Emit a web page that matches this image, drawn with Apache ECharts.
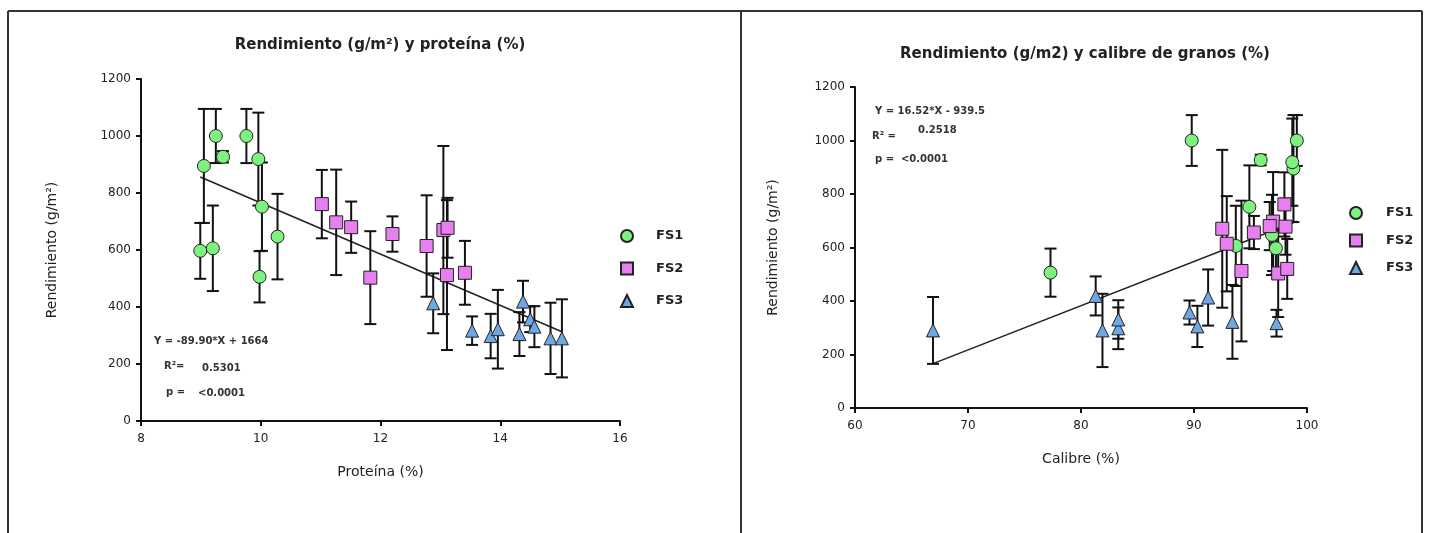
<!DOCTYPE html>
<html>
<head>
<meta charset="utf-8">
<script src="https://cdn.jsdelivr.net/npm/echarts@6/dist/echarts.min.js"></script>
<style>
  html, body { margin: 0; padding: 0; background: #fff; }
  #chart { width: 1429px; height: 533px; }
</style>
</head>
<body>
<div id="chart"></div>
<script>
// rendimiento (g/m2) con su error, igual en ambos graficos
var fs1Rend = [895, 597, 606, 1000, 927, 1000, 919, 752, 506, 647];
var fs1Err  = [200, 98, 150, 95, 20, 95, 163, 155, 90, 150];
var fs1Prot = [9.05, 8.99, 9.20, 9.25, 9.37, 9.76, 9.96, 10.02, 9.98, 10.28];
var fs1Cal  = [98.8, 97.25, 93.7, 89.8, 95.9, 99.1, 98.7, 94.9, 77.3, 96.9];

var fs2Rend = [761, 697, 680, 503, 656, 614, 670, 678, 512, 520];
var fs2Err  = [120, 185, 90, 163, 62, 178, 295, 105, 263, 112];
var fs2Prot = [11.02, 11.26, 11.51, 11.83, 12.20, 12.77, 13.05, 13.12, 13.11, 13.41];
var fs2Cal  = [98.0, 97.0, 96.7, 97.45, 95.3, 92.9, 92.5, 98.1, 94.2, 98.25];

var fs3Rend = [413, 317, 298, 322, 305, 419, 357, 331, 290, 290];
var fs3Err  = [105, 50, 78, 138, 77, 73, 45, 72, 125, 137];
var fs3Prot = [12.88, 13.53, 13.84, 13.96, 14.32, 14.38, 14.50, 14.57, 14.84, 15.03];
var fs3Cal  = [91.25, 97.3, 83.3, 93.4, 90.3, 81.3, 89.6, 83.3, 66.9, 81.9];

// extremos de las rectas de regresion
var regProt = [[8.99, 856], [15.03, 313]];
var regCal  = [[66.9, 166], [99.1, 698]];

var chart = echarts.init(document.getElementById('chart'));
var FONT = 'DejaVu Sans';

function pts(xs, ys) {
	var out = [];
	for (var i = 0; i < xs.length; i++) out.push([xs[i], ys[i]]);
	return out;
}
function bars(xs, ys, es) {
	var out = [];
	for (var i = 0; i < xs.length; i++) out.push([xs[i], ys[i] - es[i], ys[i] + es[i]]);
	return out;
}

function renderBar(params, api) {
	var top = api.coord([api.value(0), api.value(2)]);
	var bot = api.coord([api.value(0), api.value(1)]);
	var w = 6;
	var st = { stroke: '#111', lineWidth: 2 };
	return {
		type: 'group',
		children: [
			{ type: 'line', shape: { x1: top[0], y1: top[1], x2: bot[0], y2: bot[1] }, style: st },
			{ type: 'line', shape: { x1: top[0] - w, y1: top[1], x2: top[0] + w, y2: top[1] }, style: st },
			{ type: 'line', shape: { x1: bot[0] - w, y1: bot[1], x2: bot[0] + w, y2: bot[1] }, style: st }
		]
	};
}

var colors = ['#7ef27e', '#e77ff0', '#6fa7e3'];
var symbols = ['circle', 'rect', 'triangle'];
var names = ['FS1', 'FS2', 'FS3'];

function axisStyle(o, margin) {
	o.axisLine = { lineStyle: { color: '#111', width: 2 } };
	o.axisTick = { length: 5, lineStyle: { color: '#111', width: 2 } };
	o.axisLabel = { color: '#222', fontSize: 12, fontFamily: FONT, margin: margin,
		formatter: function (v) { return String(v); } };
	o.splitLine = { show: false };
	o.nameTextStyle = { color: '#222', fontSize: 14, fontFamily: FONT };
	return o;
}

function axisX(idx, min, max, step, name) {
	return axisStyle({
		gridIndex: idx, type: 'value', min: min, max: max, interval: step,
		name: name, nameLocation: 'middle', nameGap: 44
	}, 12);
}
function axisY(idx, gap) {
	return axisStyle({
		gridIndex: idx, type: 'value', min: 0, max: 1200, interval: 200,
		name: 'Rendimiento (g/m²)', nameLocation: 'middle', nameGap: gap
	}, 10);
}

var series = [];
var sets = [
	[[fs1Prot, fs1Rend, fs1Err], [fs1Cal, fs1Rend, fs1Err]],
	[[fs2Prot, fs2Rend, fs2Err], [fs2Cal, fs2Rend, fs2Err]],
	[[fs3Prot, fs3Rend, fs3Err], [fs3Cal, fs3Rend, fs3Err]]
];

series.push({ type: 'line', xAxisIndex: 0, yAxisIndex: 0, data: regProt, symbol: 'none',
	lineStyle: { color: '#222', width: 1.5 }, z: 1, silent: true });
series.push({ type: 'line', xAxisIndex: 1, yAxisIndex: 1, data: regCal, symbol: 'none',
	lineStyle: { color: '#222', width: 1.5 }, z: 1, silent: true });

for (var s = 0; s < 3; s++) {
	for (var g = 0; g < 2; g++) {
		var d = sets[s][g];
		series.push({
			type: 'custom', name: 'err' + names[s], xAxisIndex: g, yAxisIndex: g,
			renderItem: renderBar, encode: { x: 0, y: [1, 2] },
			data: bars(d[0], d[1], d[2]), z: 2, silent: true
		});
		series.push({
			type: 'scatter', name: names[s], xAxisIndex: g, yAxisIndex: g,
			symbol: symbols[s], symbolSize: 13,
			itemStyle: { color: colors[s], borderColor: '#222', borderWidth: 1, opacity: 1 },
			data: pts(d[0], d[1]), z: 3
		});
	}
}

function txt(x, y, t) {
	return { type: 'text', left: x, top: y,
		style: { text: t, fill: '#333', fontSize: 10, fontWeight: 'bold', fontFamily: FONT } };
}
var frame = { stroke: '#333', lineWidth: 2 };
function legendText(pad) {
	return { fontSize: 13, fontWeight: 'bold', color: '#222', fontFamily: FONT,
		lineHeight: 14, padding: [0, 0, 0, pad] };
}

chart.setOption({
	animation: false,
	title: [{
		text: 'Rendimiento (g/m²) y proteína (%)', left: 375, top: 33, textAlign: 'center',
		textStyle: { fontSize: 15, fontWeight: 'bold', color: '#222', fontFamily: FONT }
	}, {
		text: 'Rendimiento (g/m2) y calibre de granos (%)', left: 1080, top: 42, textAlign: 'center',
		textStyle: { fontSize: 15, fontWeight: 'bold', color: '#222', fontFamily: FONT }
	}],
	legend: [{
		data: names, orient: 'vertical', left: 620, top: 229, itemGap: 18.5, padding: 0,
		itemWidth: 12, itemHeight: 12, selectedMode: false, textStyle: legendText(18)
	}, {
		data: names, orient: 'vertical', left: 1349, top: 206, itemGap: 13.5, padding: 0,
		itemWidth: 12, itemHeight: 12, selectedMode: false, textStyle: legendText(19)
	}],
	grid: [
		{ left: 141, top: 79, width: 479, height: 342 },
		{ left: 855, top: 87, width: 452, height: 321 }
	],
	xAxis: [axisX(0, 8, 16, 2, 'Proteína (%)'), axisX(1, 60, 100, 10, 'Calibre (%)')],
	yAxis: [axisY(0, 82), axisY(1, 75)],
	series: series,
	graphic: [
		{ type: 'line', shape: { x1: 8, y1: 11, x2: 1422, y2: 11 }, style: frame },
		{ type: 'line', shape: { x1: 8, y1: 11, x2: 8, y2: 533 }, style: frame },
		{ type: 'line', shape: { x1: 741, y1: 11, x2: 741, y2: 533 }, style: frame },
		{ type: 'line', shape: { x1: 1422, y1: 11, x2: 1422, y2: 533 }, style: frame },
		txt(154, 336, 'Y = -89.90*X + 1664'),
		txt(164, 361, 'R²='),
		txt(202, 363, '0.5301'),
		txt(166, 387, 'p ='),
		txt(198, 388, '<0.0001'),
		txt(875, 106, 'Y = 16.52*X - 939.5'),
		txt(872, 131, 'R² ='),
		txt(918, 125, '0.2518'),
		txt(875, 154, 'p =  <0.0001')
	]
});
</script>
</body>
</html>
